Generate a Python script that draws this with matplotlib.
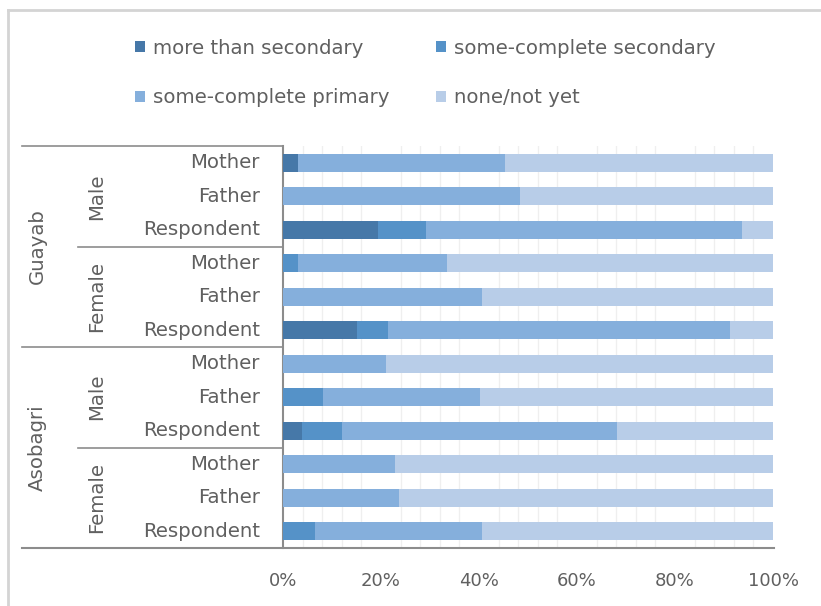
import matplotlib
matplotlib.use("Agg")
import matplotlib.pyplot as plt
import matplotlib.transforms as mtransforms
from matplotlib.lines import Line2D
import numpy as np

plt.rcParams['font.family'] = ['DejaVu Sans']

# rows from top to bottom
regions = ["Guayab", "Asobagri"]
genders = ["Male", "Female"]
persons = ["Mother", "Father", "Respondent"]

series = ["more than secondary", "some-complete secondary",
          "some-complete primary", "none/not yet"]
colors = ["#4678a8", "#5592c8", "#85afdc", "#b8cde8"]

# percentages per row (Guayab M, Guayab F, Asobagri M, Asobagri F)
more_than_secondary = [3.1, 0, 19.3, 0, 0, 15.0, 0, 0, 3.9, 0, 0, 0]
some_secondary = [0, 0, 9.8, 3.1, 0, 6.5, 0, 8.2, 8.2, 0, 0, 6.5]
some_primary = [42.3, 48.4, 64.6, 30.3, 40.7, 69.7, 21.0, 32.1, 56.0, 22.8, 23.6, 34.2]
none_not_yet = [54.6, 51.6, 6.3, 66.6, 59.3, 8.8, 79.0, 59.7, 31.9, 77.2, 76.4, 59.3]

values = [more_than_secondary, some_secondary, some_primary, none_not_yet]
row_labels = persons * 4

txt = "#606060"
line_c = "#8c8c8c"
fs = 14.2

fig = plt.figure(figsize=(8.21, 6.06), dpi=100)
ax = fig.add_axes([283 / 821, 1 - 548 / 606, 490 / 821, 402 / 606])

y = np.arange(len(row_labels))
left = np.zeros(len(row_labels))
handles = []
for name, vals, c in zip(series, values, colors):
    v = np.array(vals) / 100
    b = ax.barh(y, v, left=left, height=0.55, color=c, label=name, zorder=3)
    handles.append(b)
    left += v

ax.set_xlim(0, 1)
ax.set_ylim(11.5, -0.5)
ax.set_xticks(np.arange(0, 1.01, 0.2))
ax.set_xticklabels([f"{int(round(t * 100))}%" for t in np.arange(0, 1.01, 0.2)])
ax.set_xticks(np.arange(0, 1.001, 0.04), minor=True)
ax.grid(axis="x", which="minor", color="#efefef", lw=0.9, zorder=0)
ax.tick_params(axis="x", which="both", length=0, pad=17, labelsize=13, labelcolor=txt)
ax.set_yticks([])
for s in ["top", "right", "bottom"]:
    ax.spines[s].set_visible(False)
ax.spines["left"].set_color(line_c)
ax.spines["left"].set_linewidth(1.5)

# bottom axis line running under the category labels too
trans = mtransforms.blended_transform_factory(ax.transAxes, ax.transData)
x_region = (22 - 283) / 490
x_gender = (78 - 283) / 490
ax.add_line(Line2D([x_region, 1.003], [11.5, 11.5], transform=trans,
                   color=line_c, lw=1.5, clip_on=False))
ax.add_line(Line2D([x_region, 0], [-0.5, -0.5], transform=trans,
                   color=line_c, lw=1.2, clip_on=False))
ax.add_line(Line2D([x_region, 0], [5.5, 5.5], transform=trans,
                   color=line_c, lw=1.2, clip_on=False))
for yy in [2.5, 8.5]:
    ax.add_line(Line2D([x_gender, 0], [yy, yy], transform=trans,
                       color=line_c, lw=1.2, clip_on=False))

# category labels
for i, lab in enumerate(row_labels):
    ax.text(-0.047, i, lab, transform=trans, ha="right", va="center",
            fontsize=fs, color=txt)
for gi in range(4):
    ax.text((97 - 283) / 490, gi * 3 + 1, genders[gi % 2], transform=trans,
            rotation=90, ha="center", va="center", fontsize=fs, color=txt)
for ri, reg in enumerate(regions):
    ax.text((37 - 283) / 490, ri * 6 + 2.5, reg, transform=trans,
            rotation=90, ha="center", va="center", fontsize=fs, color=txt)

# legend: two rows, two columns
order = [0, 2, 1, 3]
leg = fig.legend([handles[i] for i in order], [series[i] for i in order],
                 ncol=2, loc="upper left", bbox_to_anchor=(125 / 821, 1 - 29 / 606),
                 frameon=False, fontsize=fs, labelcolor=txt, borderpad=0,
                 handlelength=0.5, handleheight=0.5, handletextpad=0.4,
                 labelspacing=1.55, columnspacing=2.4)

# outer chart frame
fig.add_artist(Line2D([8 / 821, 8 / 821], [0, 1 - 10 / 606], transform=fig.transFigure,
                      color="#d4d4d4", lw=2))
fig.add_artist(Line2D([8 / 821, 1], [1 - 10 / 606, 1 - 10 / 606], transform=fig.transFigure,
                      color="#d4d4d4", lw=2))

fig.savefig("out.png", dpi=100)
